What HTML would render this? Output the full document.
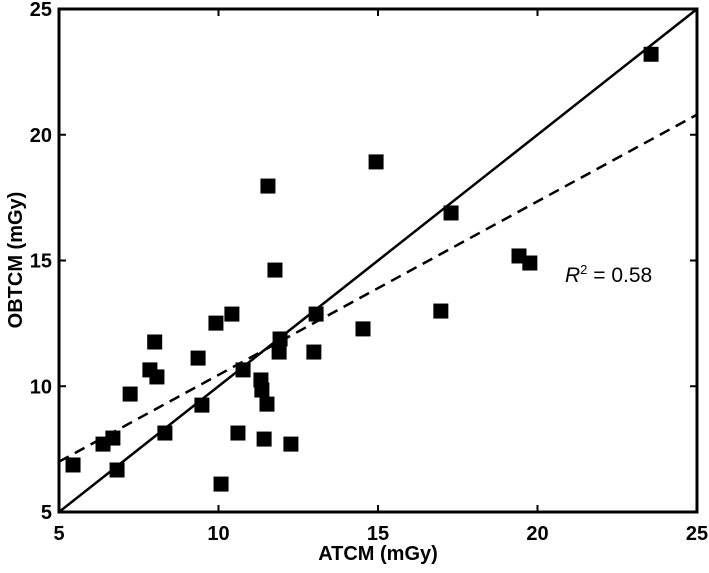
<!DOCTYPE html>
<html><head><meta charset="utf-8"><style>
body{margin:0;background:#fff}
svg text{font-family:"Liberation Sans",Arial,sans-serif;font-weight:bold;font-size:20px;fill:#000}
</style></head><body>
<svg id="chart" width="709" height="568" viewBox="0 0 709 568" xmlns="http://www.w3.org/2000/svg">
<g id="marks"></g>
<rect x="59" y="9" width="638" height="503" fill="none" stroke="#000" stroke-width="3"/>
<g id="ticks"></g>
<text x="378" y="560" text-anchor="middle">ATCM (mGy)</text>
<text transform="translate(22,260) rotate(-90)" text-anchor="middle">OBTCM (mGy)</text>
<text x="565" y="282" style="font-weight:normal;font-size:21px"><tspan font-style="italic">R</tspan><tspan dy="-8" font-size="13">2</tspan><tspan dy="8"> = 0.58</tspan></text>
</svg>
<script>
const atcm=[5.44,6.38,6.69,6.82,7.23,7.85,8.07,8.0,8.32,9.36,9.48,9.92,10.08,10.42,10.61,10.77,11.33,11.36,11.43,11.52,11.55,11.77,11.90,11.93,12.27,13.06,12.99,14.53,14.94,16.97,17.29,19.42,19.76,23.56];
const obtcm=[6.87,7.70,7.94,6.67,9.69,10.65,10.37,11.76,8.14,11.12,9.25,12.51,6.11,12.87,8.14,10.65,10.25,9.85,7.90,9.29,17.96,14.62,11.36,11.88,7.70,12.87,11.36,12.28,18.92,12.99,16.89,15.18,14.90,23.2];
const xTicks=[5,10,15,20,25];
const yTicks=[5,10,15,20,25];
const fitLine=[7.0,20.8];
const X=v=>59+(v-5)*31.9, Y=v=>512-(v-5)*25.15;
const NS="http://www.w3.org/2000/svg";
const marks=document.getElementById('marks'), ticks=document.getElementById('ticks');
function mk(tag,attrs,parent){const e=document.createElementNS(NS,tag);for(const k in attrs)e.setAttribute(k,attrs[k]);parent.appendChild(e);return e;}
let l=mk('line',{x1:X(5),y1:Y(5),x2:X(25),y2:Y(25),stroke:'#000','stroke-width':2.5},marks);


l=mk('line',{x1:X(5),y1:Y(fitLine[0]),x2:X(25),y2:Y(fitLine[1]),stroke:'#000','stroke-width':2.5,'stroke-dasharray':'11 7'},marks);


atcm.forEach((v,i)=>{const r=mk('rect',{x:X(v)-7.5,y:Y(obtcm[i])-7.5,width:15,height:15,fill:'#000'},marks);

});
xTicks.forEach(v=>{const t=mk('text',{x:X(v),y:540,'text-anchor':'middle'},ticks);t.textContent=v;


if(v>5&&v<25){const k=mk('line',{x1:X(v),y1:512,x2:X(v),y2:505,stroke:'#000','stroke-width':2},ticks);
const k2=mk('line',{x1:X(v),y1:9,x2:X(v),y2:16,stroke:'#000','stroke-width':2},ticks);}});
yTicks.forEach(v=>{const t=mk('text',{x:52,y:Y(v)+7,'text-anchor':'end'},ticks);t.textContent=v;


if(v>5&&v<25){const k=mk('line',{x1:59,y1:Y(v),x2:66,y2:Y(v),stroke:'#000','stroke-width':2},ticks);
const k2=mk('line',{x1:697,y1:Y(v),x2:690,y2:Y(v),stroke:'#000','stroke-width':2},ticks);}});
</script>
</body></html>
